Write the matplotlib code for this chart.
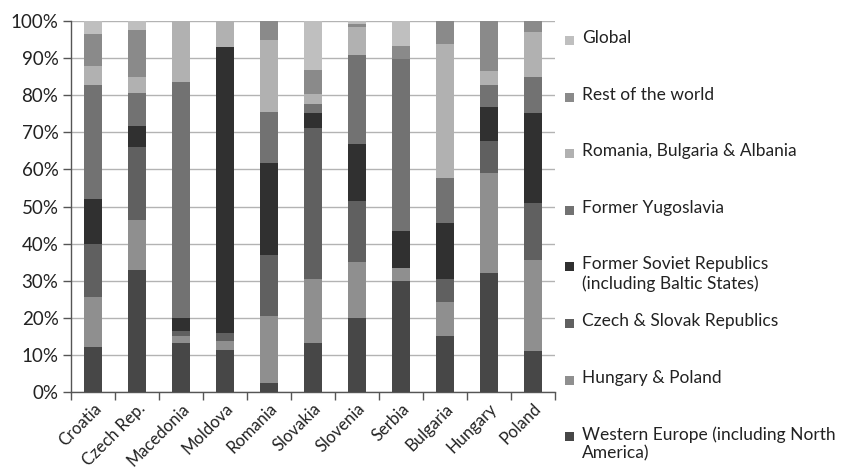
import matplotlib
matplotlib.use("Agg")
import matplotlib.pyplot as plt
from matplotlib.patches import Rectangle
import numpy as np

plt.rcParams['font.family'] = ['Lato', 'DejaVu Sans']

countries = ['Croatia', 'Czech Rep.', 'Macedonia', 'Moldova', 'Romania',
             'Slovakia', 'Slovenia', 'Serbia', 'Bulgaria', 'Hungary', 'Poland']

# shares (%) by partner region, stacked bottom to top
western_europe = [12.0, 32.8, 13.1, 11.3, 2.5, 13.1, 19.9, 29.9, 15.1, 32.0, 11.1]
hungary_poland = [13.7, 13.6, 2.1, 2.4, 18.0, 17.3, 15.2, 3.4, 9.1, 27.1, 24.5]
czech_slovak = [14.1, 19.7, 1.2, 2.1, 16.4, 40.7, 16.4, 0.0, 6.2, 8.5, 15.4]
former_soviet = [12.1, 5.6, 3.6, 77.3, 24.7, 4.0, 15.3, 10.2, 15.2, 9.3, 24.3]
former_yugoslavia = [30.8, 8.8, 63.6, 0.0, 14.0, 2.5, 24.0, 46.2, 12.0, 5.8, 9.7]
rom_bul_alb = [5.2, 4.3, 16.4, 6.9, 19.3, 2.7, 7.5, 0.0, 36.2, 3.9, 12.1]
rest_of_world = [8.5, 12.8, 0.0, 0.0, 5.1, 6.5, 0.9, 3.6, 6.2, 13.4, 2.9]
global_share = [3.6, 2.4, 0.0, 0.0, 0.0, 13.2, 0.8, 6.7, 0.0, 0.0, 0.0]

series = [
    ("Western Europe (including North\nAmerica)", western_europe, '#474747'),
    ("Hungary & Poland", hungary_poland, '#8f8f8f'),
    ("Czech & Slovak Republics", czech_slovak, '#606060'),
    ("Former Soviet Republics\n(including Baltic States)", former_soviet, '#303030'),
    ("Former Yugoslavia", former_yugoslavia, '#727272'),
    ("Romania, Bulgaria & Albania", rom_bul_alb, '#b1b1b1'),
    ("Rest of the world", rest_of_world, '#8a8a8a'),
    ("Global", global_share, '#bfbfbf'),
]

fig = plt.figure(figsize=(8.42, 4.68), dpi=100)
ax = fig.add_axes([71 / 842, 1 - 392 / 468, (555 - 71) / 842, (392 - 21) / 468])

x = np.arange(len(countries))
bottom = np.zeros(len(countries))
for label, vals, color in series:
    vals = np.array(vals)
    ax.bar(x, vals / 100.0, 0.39, bottom=bottom / 100.0, color=color,
           edgecolor='none', zorder=3)
    bottom += vals

ax.set_xlim(-0.5, len(countries) - 0.5)
ax.set_ylim(0, 1)
ax.set_yticks(np.linspace(0, 1, 11))
ax.set_yticklabels([f"{v}%" for v in range(0, 101, 10)], fontsize=13.5, color='#222222')
ax.yaxis.grid(True, color='#b3b3b3', linewidth=1.0, zorder=0)
ax.set_axisbelow(True)

ax.set_xticks(x)
ax.set_xticklabels(countries, rotation=45, ha='right', rotation_mode='anchor',
                   fontsize=12, color='#222222')
ax.set_xticks(np.arange(-0.5, len(countries)), minor=True)
ax.tick_params(axis='x', which='major', length=0, pad=6)
ax.tick_params(axis='x', which='minor', length=6, width=1, color='#555555')
ax.tick_params(axis='y', length=6, width=1, color='#555555', pad=3)

for s in ('top', 'right'):
    ax.spines[s].set_visible(False)
for s in ('left', 'bottom'):
    ax.spines[s].set_color('#555555')
    ax.spines[s].set_linewidth(1.0)

# legend: top entry first, one slot per series
for i, (label, vals, color) in enumerate(reversed(series)):
    y_px = 40 + i * 56.6
    fig.add_artist(Rectangle((565 / 842, 1 - (y_px + 5) / 468), 9 / 842, 9 / 468,
                             transform=fig.transFigure, facecolor=color,
                             edgecolor='none'))
    fig.text(582 / 842, 1 - (y_px - 10) / 468, label, fontsize=12.5, color='#222222',
             va='top', ha='left', linespacing=1.2)

fig.savefig("out.png", dpi=100)
